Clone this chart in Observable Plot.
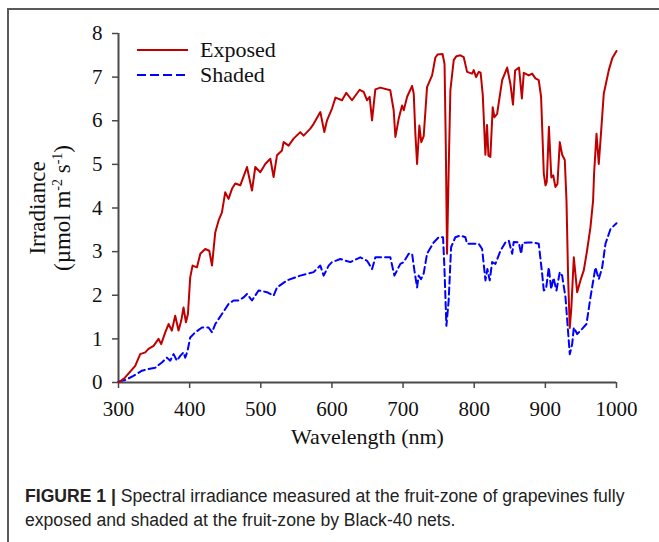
<!DOCTYPE html>
<html>
<head>
<meta charset="utf-8">
<script src="https://cdn.jsdelivr.net/npm/d3@7"></script>
<script src="https://cdn.jsdelivr.net/npm/@observablehq/plot@0.6"></script>
<style>
  html, body { margin: 0; padding: 0; background: #fff; }
  #fig { position: relative; width: 659px; height: 542px; overflow: hidden; font-family: "Liberation Serif", "Times New Roman", serif; }
  #frame { position: absolute; left: 7px; top: 8px; width: 700px; height: 600px; border-left: 2px solid #5a5a5a; border-top: 2px solid #5a5a5a; }
  #chart { position: absolute; left: 0; top: 0; }
  #ytitle { position: absolute; left: 50px; top: 208px; width: 200px; transform: translate(-50%, -50%) rotate(-90deg); text-align: center; font-size: 23px; line-height: 25px; color: #111; white-space: nowrap; }
  #ytitle sup { font-size: 14px; line-height: 0; vertical-align: 0.55em; }
  #legend { position: absolute; left: 0; top: 0; }
  #caption { position: absolute; left: 25px; top: 484px; width: 634px; font-family: "Liberation Sans", Arial, sans-serif; font-size: 17.6px; line-height: 24px; color: #222; white-space: nowrap; }
  #caption b { font-weight: bold; }
</style>
</head>
<body>
<div id="fig">
  <div id="frame"></div>
  <div id="chart"></div>
  <div id="ytitle">Irradiance<br>(µmol m<sup>-2</sup> s<sup>-1</sup>)</div>
  <div id="caption"><b>FIGURE 1 |</b> Spectral irradiance measured at the fruit-zone of grapevines fully<br>exposed and shaded at the fruit-zone by Black-40 nets.</div>
</div>
<script>
// Spectral irradiance (µmol m-2 s-1 per nm) at the fruit zone
const exposedWavelength = [300, 309, 318, 323.5, 330.5, 337.6, 342.2, 349.3, 356.3, 360, 365.7, 370.4, 375, 379.7, 384.4, 388.2, 391.4, 394.8, 397.6, 400.8, 404.1, 410.3, 415, 421.9, 427.6, 431.4, 436, 440.6, 445.4, 450, 454.7, 459.5, 464.1, 471.2, 477.3, 480.6, 487.6, 492.3, 499.3, 506.3, 513.4, 518, 522.8, 529.8, 532.1, 539.1, 546.1, 555.5, 560.2, 569.6, 574.3, 583.7, 589.3, 593.1, 600.1, 605, 614.2, 620.2, 628.2, 639, 644.6, 649.4, 653, 656.4, 661, 668, 682, 686.8, 689.2, 693.9, 698.6, 701, 705.7, 712.7, 715, 717.3, 719.7, 722.9, 725.6, 729, 733.7, 740.8, 745.4, 748.7, 755.5, 758.3, 760, 761.8, 764, 766.5, 771.2, 775, 780.6, 785.2, 790, 797, 799.3, 802.7, 806.3, 809, 812, 815.7, 818, 820, 822.7, 826, 828.4, 832.2, 839.3, 846.3, 851, 854.5, 857.5, 863, 867, 869.7, 876.7, 881.4, 886, 890.7, 894, 897.8, 900.2, 902, 905, 908.4, 911, 914.2, 917, 920.3, 923.6, 927.3, 929.7, 932, 934.3, 936.5, 940, 944.7, 949.3, 954, 958.6, 963.4, 967.1, 968.5, 971.9, 975.1, 977.5, 982.1, 989.2, 994, 1000];
const exposedIrradiance = [0.0, 0.11, 0.28, 0.38, 0.65, 0.69, 0.77, 0.84, 1.0, 0.88, 1.15, 1.34, 1.19, 1.53, 1.19, 1.42, 1.72, 1.38, 1.57, 2.41, 2.68, 2.64, 2.95, 3.06, 3.02, 2.68, 3.44, 3.71, 3.9, 4.36, 4.21, 4.44, 4.56, 4.52, 4.79, 4.94, 4.4, 4.94, 4.82, 5.01, 5.13, 4.71, 5.21, 5.32, 5.51, 5.43, 5.59, 5.74, 5.66, 5.82, 5.93, 6.2, 5.74, 6.01, 6.28, 6.53, 6.47, 6.64, 6.47, 6.71, 6.66, 6.47, 6.55, 6.01, 6.72, 6.76, 6.7, 6.24, 5.63, 6.05, 6.35, 6.24, 6.55, 6.8, 6.62, 5.7, 5.01, 5.89, 5.51, 5.65, 6.77, 7.04, 7.45, 7.52, 7.53, 7.3, 5.5, 2.95, 4.8, 6.7, 7.39, 7.48, 7.5, 7.46, 7.12, 7.08, 7.16, 7.0, 7.12, 7.1, 6.6, 5.22, 5.9, 5.2, 5.17, 6.31, 6.08, 6.16, 6.93, 7.22, 6.83, 6.37, 7.15, 7.22, 6.51, 7.1, 7.04, 7.08, 6.97, 6.93, 6.55, 4.79, 4.52, 4.6, 5.86, 4.7, 4.75, 4.48, 4.55, 5.51, 5.22, 5.1, 4.17, 2.4, 1.25, 1.7, 2.87, 2.07, 2.34, 2.57, 3.02, 3.56, 4.17, 4.79, 5.7, 5.01, 5.55, 6.62, 7.16, 7.43, 7.6];

const shadedWavelength = [300, 310, 321, 332.9, 342.2, 351.6, 361, 368, 372.7, 377.4, 382.1, 386.8, 391.4, 393.8, 397, 400.8, 407.9, 417.3, 426.6, 431.4, 436, 445.4, 454.7, 461.8, 468.8, 475.8, 480.6, 487.6, 496.9, 508.7, 518, 522.8, 536.8, 555.5, 574.3, 583.7, 588.4, 595.4, 600, 611.8, 625.8, 639.9, 649.4, 656.4, 661.1, 682.1, 687.8, 691.5, 696.2, 700.8, 707.9, 712.7, 715.9, 719.7, 721.9, 725.3, 729, 733.7, 743, 750.1, 756.2, 758.1, 760.9, 764.1, 767.5, 773.5, 780.6, 787.6, 790, 799.3, 806.3, 811.1, 815.8, 818.5, 821.8, 825.2, 829.8, 836.9, 843.9, 848.6, 853.4, 855.5, 862.6, 866, 868, 876.7, 883.7, 890.7, 895.5, 897.8, 901, 904.8, 908.2, 911.5, 915.6, 920.3, 923.6, 928.3, 931.5, 934.3, 937.7, 940, 944.7, 951.7, 957.8, 963.4, 970.4, 975.1, 979.9, 984.5, 991.6, 1000];
const shadedIrradiance = [0.02, 0.06, 0.15, 0.27, 0.31, 0.34, 0.46, 0.57, 0.5, 0.65, 0.5, 0.61, 0.69, 0.57, 0.72, 1.03, 1.15, 1.26, 1.26, 1.15, 1.34, 1.57, 1.8, 1.88, 1.88, 1.95, 2.03, 1.88, 2.11, 2.07, 1.99, 2.18, 2.34, 2.45, 2.53, 2.68, 2.45, 2.68, 2.76, 2.83, 2.76, 2.87, 2.79, 2.6, 2.87, 2.87, 2.45, 2.57, 2.72, 2.76, 2.95, 2.95, 2.57, 2.18, 2.45, 2.37, 2.5, 2.95, 3.21, 3.33, 3.33, 2.64, 1.3, 1.88, 3.1, 3.33, 3.37, 3.33, 3.18, 3.18, 3.18, 3.06, 2.34, 2.6, 2.34, 2.76, 2.72, 3.02, 3.21, 3.25, 2.95, 3.22, 3.21, 2.95, 3.2, 3.21, 3.21, 3.18, 2.49, 2.11, 2.15, 2.64, 2.14, 2.4, 2.11, 2.53, 2.45, 1.95, 1.26, 0.65, 0.88, 1.26, 1.11, 1.23, 1.34, 1.95, 2.64, 2.37, 2.64, 3.18, 3.52, 3.65];

const xTicks = [300, 400, 500, 600, 700, 800, 900, 1000];
const yTicks = [0, 1, 2, 3, 4, 5, 6, 7, 8];
const seriesNames = ["Exposed", "Shaded"];
const seriesColors = ["#c00000", "#0000ff"];
const xTitle = "Wavelength (nm)";

const exposed = exposedWavelength.map((w, i) => ({w, v: exposedIrradiance[i]}));
const shaded = shadedWavelength.map((w, i) => ({w, v: shadedIrradiance[i]}));

const axisColor = "#4a4a4a";

const chart = Plot.plot({
  width: 659,
  height: 470,
  marginLeft: 118,
  marginRight: 43,
  marginTop: 33,
  marginBottom: 88,
  style: {fontFamily: "'Liberation Serif', 'Times New Roman', serif", fontSize: "21px", color: "#111", background: "transparent"},
  x: {domain: [300, 1000]},
  y: {domain: [0, 8]},
  marks: [
    Plot.axisX({ticks: xTicks, tickFormat: d => String(d), tickSize: 6, tickPadding: 13, stroke: axisColor, strokeWidth: 1.5, label: null, fontSize: 21}),
    Plot.axisY({ticks: yTicks, tickFormat: d => String(d), tickSize: 6, tickPadding: 10, stroke: axisColor, strokeWidth: 1.5, label: null, fontSize: 21}),
    Plot.ruleY([0], {stroke: axisColor, strokeWidth: 2}),
    Plot.ruleX([300], {stroke: axisColor, strokeWidth: 2}),
    Plot.line(shaded, {x: "w", y: "v", stroke: seriesColors[1], strokeWidth: 2, strokeDasharray: "7,4", curve: "linear"}),
    Plot.line(exposed, {x: "w", y: "v", stroke: seriesColors[0], strokeWidth: 2, curve: "linear"}),
    Plot.text([xTitle], {frameAnchor: "bottom", dy: 54, lineAnchor: "middle", fontSize: 22, fill: "#111"})
  ]
});
document.getElementById("chart").appendChild(chart);

// Line-style legend in the upper-left corner of the plot area
const legend = d3.select("#fig").append("svg")
  .attr("id", "legend").attr("width", 300).attr("height", 100);
const entries = legend.selectAll("g").data(seriesNames).join("g")
  .attr("transform", (d, i) => `translate(137, ${50 + i * 25})`);
entries.append("line")
  .attr("x1", 0).attr("x2", 51).attr("y1", 0).attr("y2", 0)
  .attr("stroke", (d, i) => seriesColors[i])
  .attr("stroke-width", 2)
  .attr("stroke-dasharray", (d, i) => i === 1 ? "9,4" : null);
entries.append("text")
  .attr("x", 63).attr("y", 7)
  .attr("font-family", "'Liberation Serif', 'Times New Roman', serif")
  .attr("font-size", 22).attr("fill", "#111")
  .text(d => d);
</script>
</body>
</html>
